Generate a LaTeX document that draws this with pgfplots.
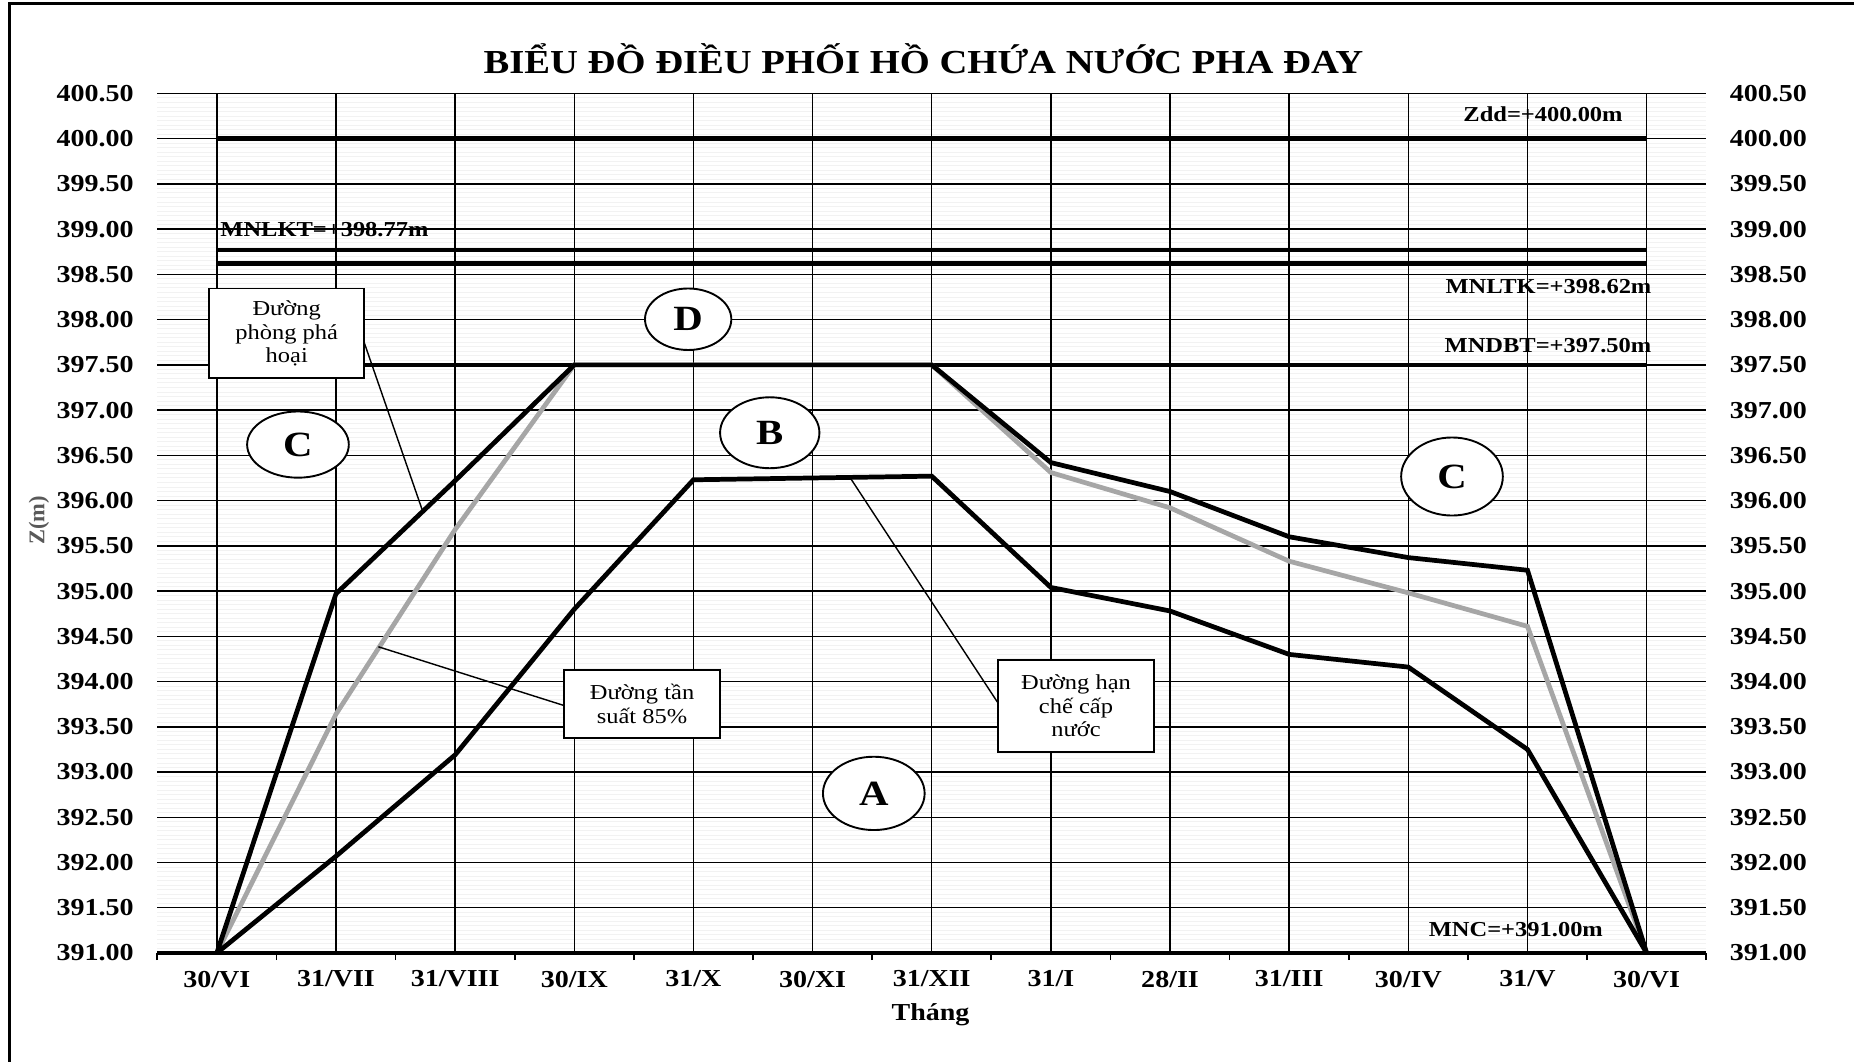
\documentclass[border=0pt]{standalone}
\usepackage{pgfplots}
\pgfplotsset{compat=1.18}
\usepackage{fontspec}
\setmainfont[FakeStretch=1.15]{Liberation Serif}
\newfontfamily\plainserif{Liberation Serif}

\begin{document}
\begin{tikzpicture}
\useasboundingbox (0,0) rectangle (784pt,-449pt);
\pgfplotsset{refax/.style={at={(66.5pt,-403pt)}, anchor=south west, width=655pt, height=363.5pt,
  scale only axis, xmin=-0.5, xmax=12.5, ymin=391, ymax=400.5, axis line style={draw=none},
  major tick length=0pt, minor tick length=0pt, scaled y ticks=false}}

% faint horizontal minor grid
\begin{axis}[refax, xtick=\empty, ytick={391,391.5,...,400.5}, yticklabels={}, minor y tick num=9,
  yminorgrids, minor grid style={black!5, line width=0.4pt}]
\end{axis}
% light vertical grid at half positions
\begin{axis}[refax, xtick=\empty, ytick=\empty, minor xtick={-0.5,0.5,...,12.5},
  xminorgrids, minor grid style={black!17, line width=0.7pt}]
\end{axis}

% main axis
\begin{axis}[refax,
  xtick={0,...,12},
  xticklabels={30/VI,31/VII,31/VIII,30/IX,31/X,30/XI,31/XII,31/I,28/II,31/III,30/IV,31/V,30/VI},
  minor xtick={-0.5,0.5,...,12.5},
  ytick={391,391.5,...,400.5},
  xmajorgrids, ymajorgrids,
  major grid style={black, line width=0.6pt},
  major tick length=0pt, minor tick length=3pt, tick align=outside,
  xtick pos=left, ytick pos=left,
  tick style={black, line width=0.7pt},
  ticklabel style={font=\bfseries\fontsize{10.3}{12}\selectfont},
  xticklabel style={yshift=-4pt},
  yticklabel style={xshift=-6.5pt, /pgf/number format/.cd, fixed, fixed zerofill, precision=2, assume math mode=true, /tikz/.cd},
  clip=false]
% reference levels
\addplot[black, line width=1.9pt] coordinates {(0,400.00) (12,400.00)};
\addplot[black, line width=1.9pt] coordinates {(0,398.77) (12,398.77)};
\addplot[black, line width=1.9pt] coordinates {(0,398.62) (12,398.62)};
\addplot[black, line width=1.9pt] coordinates {(0,397.50) (12,397.50)};
% frequency 85% (gray)
\addplot[black!35, line width=2pt] coordinates {
 (0,391.00) (1,393.64) (2,395.68) (3,397.50) (4,397.50) (5,397.50) (6,397.50)
 (7,396.31) (8,395.92) (9,395.33) (10,394.98) (11,394.61) (12,391.00)};
% upper: duong phong pha hoai
\addplot[black, line width=2pt] coordinates {
 (0,391.00) (1,394.97) (2,396.22) (3,397.50) (4,397.50) (5,397.50) (6,397.50)
 (7,396.42) (8,396.10) (9,395.60) (10,395.37) (11,395.23) (12,391.00)};
% lower: duong han che cap nuoc
\addplot[black, line width=2pt] coordinates {
 (0,391.00) (1,392.07) (2,393.19) (3,394.80) (4,396.23) (5,396.25) (6,396.27)
 (7,395.04) (8,394.78) (9,394.30) (10,394.16) (11,393.25) (12,391.00)};
\draw[black, line width=1.6pt] (rel axis cs:0,0) -- (rel axis cs:1,0);
\end{axis}

% right tick labels
\begin{axis}[refax, xtick=\empty, ytick={391,391.5,...,400.5}, ytick pos=right, yticklabel pos=right,
  ticklabel style={font=\bfseries\fontsize{10.3}{12}\selectfont},
  yticklabel style={xshift=6.5pt, /pgf/number format/.cd, fixed, fixed zerofill, precision=2, assume math mode=true, /tikz/.cd}]
\end{axis}

\begin{scope}[x=0.5pt, y=-0.5pt]
% outer frame
\draw[line width=1pt] (8,898) -- (8,3) -- (1568,3);
% title and axis labels
\node[font=\bfseries\fontsize{14.2}{16}\selectfont] at (781,50) {BIỂU ĐỒ ĐIỀU PHỐI HỒ CHỨA NƯỚC PHA ĐAY};
\node[font=\bfseries\fontsize{10.3}{12}\selectfont] at (787,858) {Tháng};
\node[rotate=90, text=black!65, font=\plainserif\bfseries\fontsize{9.5}{11}\selectfont] at (33,440) {Z(m)};
% level labels
\node[font=\bfseries\fontsize{9}{10}\selectfont] at (1305,97) {Zdd=+400.00m};
\node[anchor=west, font=\bfseries\fontsize{9}{10}\selectfont, inner sep=0pt] at (186,194) {MNLKT=+398.77m};
\node[anchor=east, font=\bfseries\fontsize{9}{10}\selectfont, inner sep=0pt] at (1397,242) {MNLTK=+398.62m};
\node[anchor=east, font=\bfseries\fontsize{9}{10}\selectfont, inner sep=0pt] at (1397,292) {MNDBT=+397.50m};
\node[anchor=east, font=\bfseries\fontsize{9}{10}\selectfont, inner sep=0pt] at (1356,786) {MNC=+391.00m};
% leader lines
\draw[line width=0.6pt] (305,281) -- (357,431);
\draw[line width=0.6pt] (478,597) -- (320,547);
\draw[line width=0.6pt] (845,596) -- (719,404);
% text boxes
\node[draw, fill=white, line width=0.8pt, minimum width=65.5pt, minimum height=38pt, inner sep=1pt,
  align=center, font=\fontsize{9}{10}\selectfont] at (242.5,282) {Đường\\phòng phá\\hoại};
\node[draw, fill=white, line width=0.8pt, minimum width=66pt, minimum height=28.5pt, inner sep=1pt,
  align=center, font=\fontsize{9}{10}\selectfont] at (543,595.5) {Đường tần\\suất 85\%};
\node[draw, fill=white, line width=0.8pt, minimum width=66pt, minimum height=39pt, inner sep=1pt,
  align=center, font=\fontsize{9}{10}\selectfont] at (910,597) {Đường hạn\\chế cấp\\nước};
% zone ellipses
\draw[line width=0.8pt, fill=white] (582,270) ellipse [x radius=18.25pt, y radius=13pt];
\node[font=\bfseries\fontsize{15}{17}\selectfont] at (582,270) {D};
\draw[line width=0.8pt, fill=white] (252,376) ellipse [x radius=21.5pt, y radius=14pt];
\node[font=\bfseries\fontsize{15}{17}\selectfont] at (252,376) {C};
\draw[line width=0.8pt, fill=white] (651,366) ellipse [x radius=21pt, y radius=15pt];
\node[font=\bfseries\fontsize{15}{17}\selectfont] at (651,366) {B};
\draw[line width=0.8pt, fill=white] (1228,403) ellipse [x radius=21.5pt, y radius=16.5pt];
\node[font=\bfseries\fontsize{15}{17}\selectfont] at (1228,403) {C};
\draw[line width=0.8pt, fill=white] (739,671) ellipse [x radius=21.5pt, y radius=15.5pt];
\node[font=\bfseries\fontsize{15}{17}\selectfont] at (739,671) {A};
\end{scope}
\end{tikzpicture}
\end{document}
